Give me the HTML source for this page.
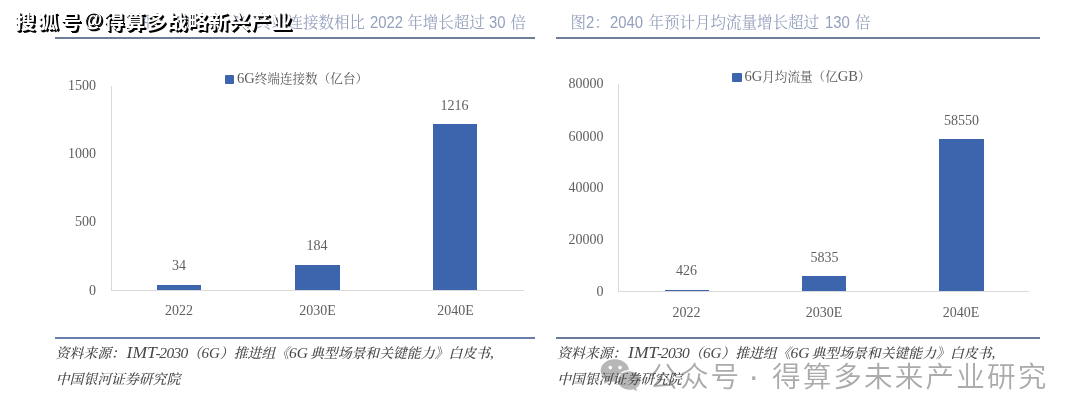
<!DOCTYPE html>
<html lang="zh-CN">
<head>
<meta charset="utf-8">
<title>6G 图表</title>
<style>
html,body{margin:0;padding:0;background:#fff;}
body{width:1080px;height:420px;position:relative;overflow:hidden;will-change:transform;font-family:"Liberation Serif","Noto Serif CJK SC",serif;}
.abs{position:absolute;white-space:nowrap;}
.rule{position:absolute;height:2px;background:#717d98;}
.title{position:absolute;top:11px;height:24px;line-height:24px;font-size:15.5px;word-spacing:1.3px;color:#94a0bc;white-space:nowrap;font-family:"Liberation Sans","Noto Serif CJK SC",serif;font-weight:400;}
.title .n{display:inline-block;font-size:17px;line-height:24px;transform:scaleX(0.875);transform-origin:0 50%;vertical-align:baseline;}
.ax{position:absolute;background:#d9d9d9;}
.bar{position:absolute;background:#3c65ad;}
.num{position:absolute;font-family:"Liberation Serif","Noto Serif CJK SC",serif;font-size:14px;color:#5f5f5f;line-height:16px;height:16px;white-space:nowrap;}
.yl{text-align:right;width:60px;}
.cl{text-align:center;width:80px;}
.legend{position:absolute;font-size:12.6px;line-height:16px;color:#5c5c5c;white-space:nowrap;font-family:"Liberation Serif","Noto Serif CJK SC",serif;font-weight:400;}
.legend .l{font-size:14.5px;font-weight:400;}
.lm{position:absolute;width:9.7px;height:9.7px;background:#3c65ad;border-radius:1px;}
.src{position:absolute;font-family:"Liberation Serif","Noto Serif CJK SC",serif;font-style:italic;font-weight:500;font-size:13.85px;word-spacing:-1.5px;line-height:25.5px;color:#484848;white-space:nowrap;}
.src .l{font-size:15.5px;line-height:1px;font-weight:400;}
.src .im{font-size:17.5px;margin-left:1.7px;}
.src .hy{margin:0 -1.3px;}
.src .dg{letter-spacing:-0.68px;}
.src .g{font-size:15px;}
.wm1{position:absolute;left:0;top:7px;height:30px;width:300px;font-family:"Liberation Sans","Noto Sans CJK SC",sans-serif;font-weight:700;font-size:19.4px;line-height:30px;color:#fff;text-shadow:1px 1px 0 #000,1.9px 1.9px 0 #000;white-space:nowrap;}
.wm1 span{position:absolute;top:0;transform:scaleX(1.05);transform-origin:0 50%;}
.wm1 .a{left:15.2px;letter-spacing:2.41px;}
.wm1 .at{left:83.6px;font-size:19.4px;transform:none;top:-2.6px;}
.wm1 .b{left:103.7px;letter-spacing:0.55px;}
.wm2{position:absolute;left:649.2px;top:358px;font-family:"Liberation Sans","Noto Sans CJK SC",sans-serif;font-weight:350;font-size:28.6px;line-height:38px;color:#ababab;white-space:nowrap;letter-spacing:2.12px;}
.wm2 .dot{display:inline-block;box-sizing:border-box;width:30.6px;padding-left:7px;text-align:left;letter-spacing:0;font-size:33px;line-height:20px;}
</style>
</head>
<body>

<!-- titles -->
<div class="title" style="right:554px;word-spacing:0.3px;">图<span class="n" style="margin-right:-1.18px">1</span>：<span class="n" style="margin-right:-4.72px">2040</span> 年 <span class="n" style="margin-right:-2.83px">6G</span> 终端连接数相比 <span class="n" style="margin-right:-4.72px">2022</span> 年增长超过 <span class="n" style="margin-right:-2.36px">30</span> 倍</div>
<div class="title" style="left:570.5px;">图<span class="n" style="margin-right:-1.18px">2</span>：<span class="n" style="margin-right:-4.72px">2040</span> 年预计月均流量增长超过 <span class="n" style="margin-right:-3.54px">130</span> 倍</div>
<div class="rule" style="left:55px;width:480px;top:36.6px;height:2.1px;"></div>
<div class="rule" style="left:556px;width:484px;top:36.6px;height:2.1px;"></div>

<!-- left chart -->
<div class="lm" style="left:224.5px;top:74.5px;"></div>
<div class="legend" style="left:237px;top:70.3px;"><span class="l">6G</span>终端连接数（亿台）</div>
<div class="ax" style="left:110.7px;top:85.5px;width:1px;height:205px;"></div>
<div class="ax" style="left:111px;top:290px;width:413px;height:1px;"></div>
<div class="num yl" style="left:36px;top:77.8px;">1500</div>
<div class="num yl" style="left:36px;top:146.2px;">1000</div>
<div class="num yl" style="left:36px;top:214.3px;">500</div>
<div class="num yl" style="left:36px;top:282.9px;">0</div>
<div class="bar" style="left:157px;top:285px;width:44px;height:5px;"></div>
<div class="bar" style="left:294.6px;top:264.6px;width:45.4px;height:25.4px;"></div>
<div class="bar" style="left:433px;top:124px;width:44px;height:166px;"></div>
<div class="num cl" style="left:139px;top:258.0px;">34</div>
<div class="num cl" style="left:277px;top:238.1px;">184</div>
<div class="num cl" style="left:414.5px;top:98.0px;">1216</div>
<div class="num cl" style="left:139px;top:302.9px;">2022</div>
<div class="num cl" style="left:277.5px;top:302.9px;">2030E</div>
<div class="num cl" style="left:415.5px;top:302.9px;">2040E</div>

<!-- right chart -->
<div class="lm" style="left:731.5px;top:72.5px;width:10.2px;"></div>
<div class="legend" style="left:744.5px;top:68.3px;"><span class="l">6G</span>月均流量（亿<span class="l">GB</span>）</div>
<div class="ax" style="left:617.6px;top:83.5px;width:1px;height:208px;"></div>
<div class="ax" style="left:618px;top:291px;width:411px;height:1px;"></div>
<div class="num yl" style="left:543.5px;top:76.1px;">80000</div>
<div class="num yl" style="left:543.5px;top:128.5px;">60000</div>
<div class="num yl" style="left:543.5px;top:180.4px;">40000</div>
<div class="num yl" style="left:543.5px;top:232.1px;">20000</div>
<div class="num yl" style="left:543.5px;top:284.0px;">0</div>
<div class="bar" style="left:664.5px;top:289.5px;width:44.5px;height:1.5px;"></div>
<div class="bar" style="left:801.5px;top:275.5px;width:44.5px;height:15.5px;"></div>
<div class="bar" style="left:939px;top:139px;width:45px;height:152px;"></div>
<div class="num cl" style="left:646.5px;top:263.0px;">426</div>
<div class="num cl" style="left:784.5px;top:250.0px;">5835</div>
<div class="num cl" style="left:921.5px;top:113.2px;">58550</div>
<div class="num cl" style="left:646.5px;top:304.8px;">2022</div>
<div class="num cl" style="left:784px;top:304.8px;">2030E</div>
<div class="num cl" style="left:921px;top:304.8px;">2040E</div>

<!-- bottom rules and sources -->
<div class="rule" style="left:55px;width:480px;top:336.7px;height:2.1px;background:#687dab;"></div>
<div class="rule" style="left:556px;width:484px;top:336.7px;height:2.1px;background:#6a7b9a;"></div>
<svg class="abs" style="left:600px;top:356px;" width="46" height="40" viewBox="0 0 46 40">
  <g fill="#b7b7b7">
    <ellipse cx="14.75" cy="14.5" rx="14.1" ry="11.2"/>
    <path d="M6 22 L3.8 28 L11.5 24.6 Z"/>
  </g>
  <g fill="#b7b7b7" stroke="#fff" stroke-width="1.1">
    <path d="M29.25 14.6 C35.8 14.6 41 19 41 24.5 C41 27.6 39.3 30.3 36.7 32.1 L37.9 36.2 L33.2 33.8 C32 34.2 30.6 34.4 29.25 34.4 C22.7 34.4 17.5 30 17.5 24.5 C17.5 19 22.7 14.6 29.25 14.6 Z"/>
  </g>
  <circle cx="10.3" cy="11.6" r="1.8" fill="#fff"/>
  <circle cx="20" cy="11.6" r="1.8" fill="#fff"/>
</svg>
<div class="wm2">公众号<span class="dot"> · </span>得算多未来产业研究</div>
<div class="src" style="left:55.7px;top:341px;">资料来源：<span class="l im">IMT</span><span class="l hy">-</span><span class="l dg">2030</span>（<span class="l g">6G</span>）推进组《<span class="l">6G</span> 典型场景和关键能力》白皮书<span class="l">,</span><br>中国银河证券研究院</div>
<div class="src" style="left:557.2px;top:341px;">资料来源：<span class="l im">IMT</span><span class="l hy">-</span><span class="l dg">2030</span>（<span class="l g">6G</span>）推进组《<span class="l">6G</span> 典型场景和关键能力》白皮书<span class="l">,</span><br>中国银河证券研究院</div>

<!-- watermarks -->
<div class="wm1"><span class="a">搜狐号</span><span class="at">@</span><span class="b">得算多战略新兴产业</span></div>

</body>
</html>
